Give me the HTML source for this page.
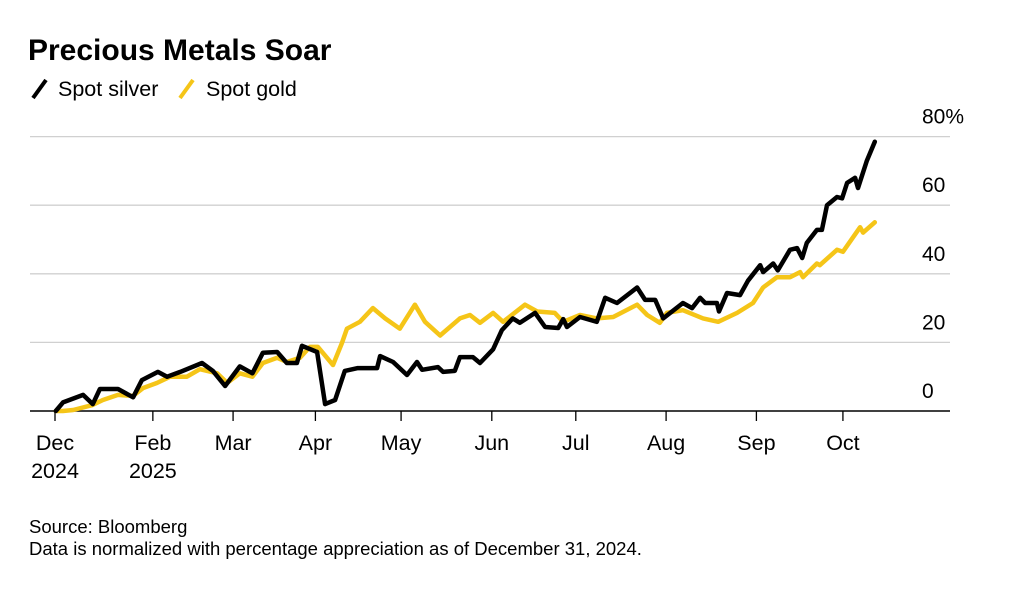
<!DOCTYPE html>
<html><head><meta charset="utf-8"><style>
body{margin:0;background:#fff;width:1034px;height:586px;overflow:hidden;font-family:"Liberation Sans",sans-serif}
</style></head><body>
<svg width="1034" height="586" font-family="Liberation Sans, sans-serif">
<text x="28" y="60" font-size="30" font-weight="bold" fill="#000">Precious Metals Soar</text>
<g>
<line x1="33" y1="98" x2="46" y2="80" stroke="#000" stroke-width="4"/>
<text x="58" y="96" font-size="21.5" fill="#000">Spot silver</text>
<line x1="180" y1="98" x2="193" y2="80" stroke="#f5c518" stroke-width="4"/>
<text x="206" y="96" font-size="21.5" fill="#000">Spot gold</text>
</g>
<g id="grid"></g><g id="xaxis"></g><g id="series"></g>
<text x="29" y="533" font-size="18.5" fill="#000">Source: Bloomberg</text>
<text x="29" y="555" font-size="18.5" fill="#000">Data is normalized with percentage appreciation as of December 31, 2024.</text>
</svg>
<script>
const yTicks=[0,20,40,60,80];
const yTickLabels=["0","20","40","60","80%"];
const xTickIdx=[0,23.3,42.4,62,82.4,104,124,145.5,167,187.6];
const xTickLine1=["Dec","Feb","Mar","Apr","May","Jun","Jul","Aug","Sep","Oct"];
const xTickLine2=["2024","2025","","","","","","","",""];
const silverT=[0.2,1.9,6.7,9,10.7,15,18.6,20.7,24.5,26.7,29.8,35,37.6,40.5,44,47,49.5,52.9,55.2,57.6,58.8,62.4,64.3,66.7,69,72.1,76.7,77.4,80.5,83.8,86.2,87.4,91.2,92.4,95.2,96.4,99.5,101.2,104.3,106.4,109,110.7,114.3,116.7,119.8,121,121.9,125,129,131,133.8,138.6,140.5,142.9,144.8,149.5,151.7,153.6,154.8,157.6,158.1,160,163.1,165,167.9,168.6,171,172.1,175,176.7,177.9,179,181.4,182.6,183.8,186.2,187.4,188.6,190.5,191.2,193.3,195.2];
const silverV=[0,2.5,4.7,2,6.4,6.4,4,9,11.4,10,11.4,14,11.7,7.3,13,11,17,17.2,14,14,19,17.2,2,3.2,11.7,12.5,12.5,16,14.3,10.5,14.3,12,12.8,11.4,11.7,15.7,15.7,14,18,23.6,27,25.7,28.6,24.5,24.2,26.8,24.5,27.4,26,33,31.5,36,32.4,32.4,27,31.5,30,33,31.5,31.5,29,34.4,33.8,38,42.5,40.5,43,41,47,47.5,44.6,49,52.8,52.8,60,62.4,62,66.5,68,65,73,78.5];
const goldT=[0.2,1.9,4.3,8.8,11.4,15,18.6,21,24.3,27.4,31.4,34.5,38.6,41,44,47,49.5,52.9,55.2,58.3,60.7,62.6,66.2,68.3,69.5,72.6,75.7,78.6,82.1,85.7,88.1,91.7,96.4,98.8,101.2,104.3,106.7,111.9,114.8,119,121,125,129,132.9,138.6,141,144,145.7,149.5,154.3,157.9,162.4,166.2,168.6,171.9,175,177.4,178.1,181.4,182.1,186.2,187.6,191.7,192.4,195.2];
const goldV=[0,0,0.3,1.7,3.2,4.7,4.4,6.7,8.2,10,10,12.2,11,8.2,11,10,14,15.5,14.3,15.5,18.7,18.7,13.4,19.8,24,26,30,27,24,31,26,22,27,28,25.7,28.6,26,31,29,28.6,26,28,27,27.4,31,28,25.7,28.6,29.4,27,26,28.6,31.5,36,39,39,40.5,39,43,42.5,47,46.4,53.6,52,55];
const NS="http://www.w3.org/2000/svg";
const x=t=>55+4.2*t, y=v=>411-3.43*v;
function mk(tag,attrs,parent){const e=document.createElementNS(NS,tag);for(const k in attrs)e.setAttribute(k,attrs[k]);parent.appendChild(e);return e;}
const grid=document.getElementById('grid');
yTicks.forEach((v,i)=>{
 const l=mk('line',{x1:30,x2:950,y1:y(v),y2:y(v),stroke:v===0?'#000':'#d0d0d0','stroke-width':v===0?1.5:1.3},grid);
 
 
 const t=mk('text',{x:922,y:y(v)-13,'font-size':21,fill:'#000'},grid);t.textContent=yTickLabels[i];
 
 
});
const xa=document.getElementById('xaxis');
xTickIdx.forEach((t,i)=>{
 const l=mk('line',{x1:x(t),x2:x(t),y1:411,y2:421,stroke:'#000','stroke-width':1.3},xa);
 
 
 const tx=mk('text',{x:x(t),y:450,'font-size':21.5,'text-anchor':'middle',fill:'#000'},xa);tx.textContent=xTickLine1[i];
 
 
 if(xTickLine2[i]){const t2=mk('text',{x:x(t),y:478,'font-size':21.5,'text-anchor':'middle',fill:'#000'},xa);t2.textContent=xTickLine2[i];
 
 }
});
const sg=document.getElementById('series');
function line(T,V,color,name){
 const d=T.map((t,i)=>(i?'L':'M')+x(t).toFixed(1)+','+y(V[i]).toFixed(1)).join('');
 const p=mk('path',{d:d,fill:'none',stroke:color,'stroke-width':4.5,'stroke-linejoin':'round','stroke-linecap':'round'},sg);
 
 
}
line(goldT,goldV,'#f5c518','gold-line');
line(silverT,silverV,'#000','silver-line');
</script>
</body></html>
